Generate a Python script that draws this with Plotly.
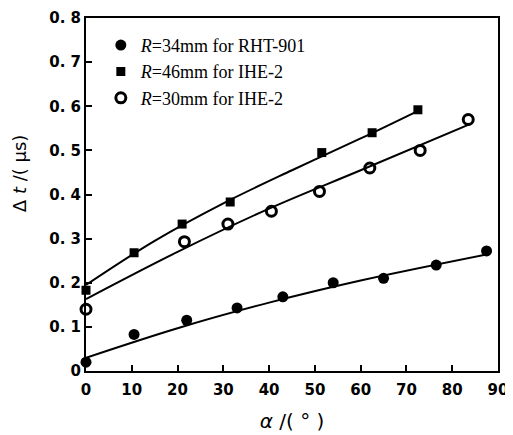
import plotly.graph_objects as go

# Data
alpha_rht = [0, 10.5, 22, 33, 43, 54, 65, 76.5, 87.5]
dt_rht = [0.02, 0.083, 0.115, 0.143, 0.168, 0.2, 0.21, 0.24, 0.272]
alpha_ihe46 = [0, 10.5, 21, 31.5, 51.5, 62.5, 72.5]
dt_ihe46 = [0.183, 0.268, 0.333, 0.383, 0.495, 0.54, 0.592]
alpha_ihe30 = [0, 21.5, 31, 40.5, 51, 62, 73, 83.5]
dt_ihe30 = [0.14, 0.293, 0.333, 0.362, 0.407, 0.46, 0.5, 0.57]

# Fitted curves
fit_x_rht = [0, 20, 40, 60, 88]
fit_y_rht = [0.03, 0.097, 0.155, 0.205, 0.265]
fit_x_46 = [0, 15, 30, 45, 60, 73]
fit_y_46 = [0.195, 0.295, 0.38, 0.455, 0.527, 0.592]
fit_x_30 = [0, 20, 40, 60, 84]
fit_y_30 = [0.163, 0.27, 0.368, 0.455, 0.56]

x_ticks = [0, 10, 20, 30, 40, 50, 60, 70, 80, 90]
y_ticks = [0, 0.1, 0.2, 0.3, 0.4, 0.5, 0.6, 0.7, 0.8]
y_ticktext = ["0", "0. 1", "0. 2", "0. 3", "0. 4", "0. 5", "0. 6", "0. 7", "0. 8"]

fig = go.Figure()
line_style = dict(color="black", width=2, shape="spline")
for fx, fy in [(fit_x_rht, fit_y_rht), (fit_x_46, fit_y_46), (fit_x_30, fit_y_30)]:
    fig.add_trace(go.Scatter(x=fx, y=fy, mode="lines", line=line_style,
                             showlegend=False, hoverinfo="skip", cliponaxis=False))

fig.add_trace(go.Scatter(x=alpha_rht, y=dt_rht, mode="markers",
                         name="<i>R</i>=34mm for RHT-901", cliponaxis=False,
                         marker=dict(symbol="circle", size=11, color="black")))
fig.add_trace(go.Scatter(x=alpha_ihe46, y=dt_ihe46, mode="markers",
                         name="<i>R</i>=46mm for IHE-2", cliponaxis=False,
                         marker=dict(symbol="square", size=9, color="black")))
fig.add_trace(go.Scatter(x=alpha_ihe30, y=dt_ihe30, mode="markers",
                         name="<i>R</i>=30mm for IHE-2", cliponaxis=False,
                         marker=dict(symbol="circle-open", size=10, color="black",
                                     line=dict(width=3))))

tick_font = dict(family="DejaVu Sans", size=15, color="black", weight="bold")
axis_common = dict(showline=True, linecolor="black", linewidth=2, mirror=True,
                   ticks="inside", ticklen=6, tickwidth=2, tickcolor="black",
                   showgrid=False, zeroline=False, automargin=False,
                   ticklabeloverflow="allow", tickfont=tick_font)

fig.update_layout(
    width=505, height=427,
    margin=dict(l=78, r=15, t=10, b=64, autoexpand=False),
    paper_bgcolor="white", plot_bgcolor="white",
    xaxis=dict(range=[0, 90], tickvals=x_ticks, ticklabelstandoff=4, title=dict(
        text="<i>α</i> /( ° )", font=dict(family="DejaVu Sans", size=20, color="black"),
        standoff=16), **axis_common),
    yaxis=dict(range=[0, 0.8], tickvals=y_ticks, ticktext=y_ticktext, **axis_common),
    legend=dict(x=0.036, y=0.975, xanchor="left", yanchor="top", bgcolor="rgba(0,0,0,0)",
                font=dict(family="Liberation Serif, Times New Roman", size=18, color="black"),
                itemwidth=30, tracegroupgap=0),
    showlegend=True,
    annotations=[dict(text="Δ <i>t</i> /( μs)", xref="paper", yref="paper",
                      x=-0.163, y=0.56, xanchor="center", yanchor="middle",
                      textangle=-90, showarrow=False,
                      font=dict(family="DejaVu Sans", size=18, color="black"))],
)

fig.write_html("out.html")
